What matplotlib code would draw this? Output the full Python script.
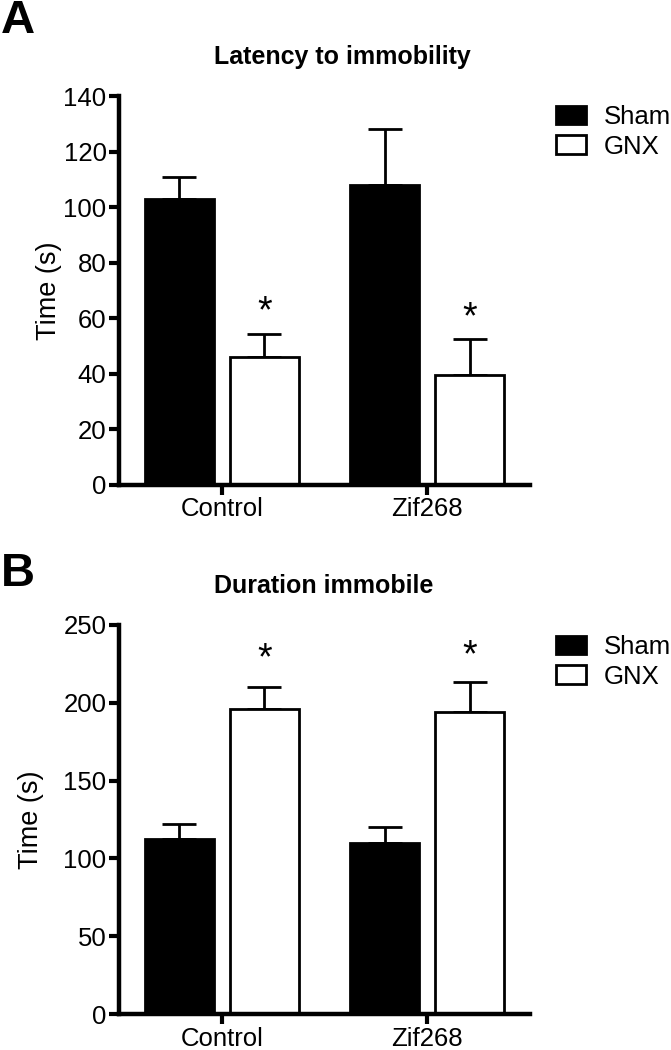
import numpy as np
import matplotlib.pyplot as plt
from matplotlib.patches import Patch

plt.rcParams['font.family'] = ['Liberation Sans', 'DejaVu Sans']

groups = ['Control', 'Zif268']
series = ['Sham', 'GNX']

# panel A: latency to immobility (s)
lat_mean = {'Sham': [103, 108], 'GNX': [46, 39.6]}
lat_err = {'Sham': [8, 20], 'GNX': [8.3, 13]}
lat_star = [62, 60]

# panel B: duration immobile (s)
dur_mean = {'Sham': [112.6, 109.6], 'GNX': [196.3, 194.2]}
dur_err = {'Sham': [9.2, 10.7], 'GNX': [14, 19]}
dur_star = [228, 230]

W, H = 671, 1050
fig = plt.figure(figsize=(W / 100, H / 100), dpi=100)

face = {'Sham': 'black', 'GNX': 'white'}
offset = {'Sham': -0.207, 'GNX': 0.207}
bw = 0.335
fs = 18.5


def panel(rect, means, errs, stars, ymax, ystep, title, ty, letter, ly, leg_top, lpad):
    ax = fig.add_axes(rect)
    x = np.arange(len(groups))
    for s in series:
        ax.bar(x + offset[s], means[s], width=bw, color=face[s], edgecolor='black',
               linewidth=2, zorder=2)
        ax.errorbar(x + offset[s], means[s], yerr=[np.zeros(len(groups)), errs[s]],
                    fmt='none', ecolor='black', elinewidth=2, capsize=12, capthick=2,
                    zorder=1)
    for xi, ys in zip(x, stars):
        ax.text(xi + offset['GNX'], ys, '*', ha='center', va='center', fontsize=27)
    ax.set_xlim(-0.5, 1.5)
    ax.set_ylim(0, ymax)
    ax.set_yticks(np.arange(0, ymax + 1, ystep))
    ax.set_xticks(x)
    ax.set_xticklabels(groups)
    ax.spines['top'].set_visible(False)
    ax.spines['right'].set_visible(False)
    for sp in ['left', 'bottom']:
        ax.spines[sp].set_linewidth(3.2)
    ax.tick_params(axis='both', width=3, length=7, labelsize=fs, pad=2)
    ax.set_ylabel('Time (s)', fontsize=19.5, labelpad=lpad)
    fig.text(214 / W, 1 - ty / H, title, ha='left', va='center',
             fontsize=18, fontweight='bold')
    fig.text(18 / W, 1 - ly / H, letter, ha='center', va='center',
             fontsize=34, fontweight='heavy')
    handles = [Patch(facecolor=face[s], edgecolor='black', linewidth=2) for s in series]
    ax.legend(handles, series, loc='upper left', frameon=False, fontsize=18.5,
              bbox_to_anchor=(556 / W, 1 - leg_top / H),
              bbox_transform=fig.transFigure, borderaxespad=0, borderpad=0,
              handlelength=1.17, handleheight=0.74, handletextpad=0.68,
              labelspacing=0.22)
    return ax


panel([119 / W, (H - 485) / H, 411 / W, 389 / H], lat_mean, lat_err, lat_star,
      140, 20, 'Latency to immobility', 57, 'A', 21, 105, 1)
panel([119 / W, (H - 1014) / H, 411 / W, 389 / H], dur_mean, dur_err, dur_star,
      250, 50, 'Duration immobile', 586, 'B', 574, 635, 14)

fig.savefig('out.png', dpi=100)
